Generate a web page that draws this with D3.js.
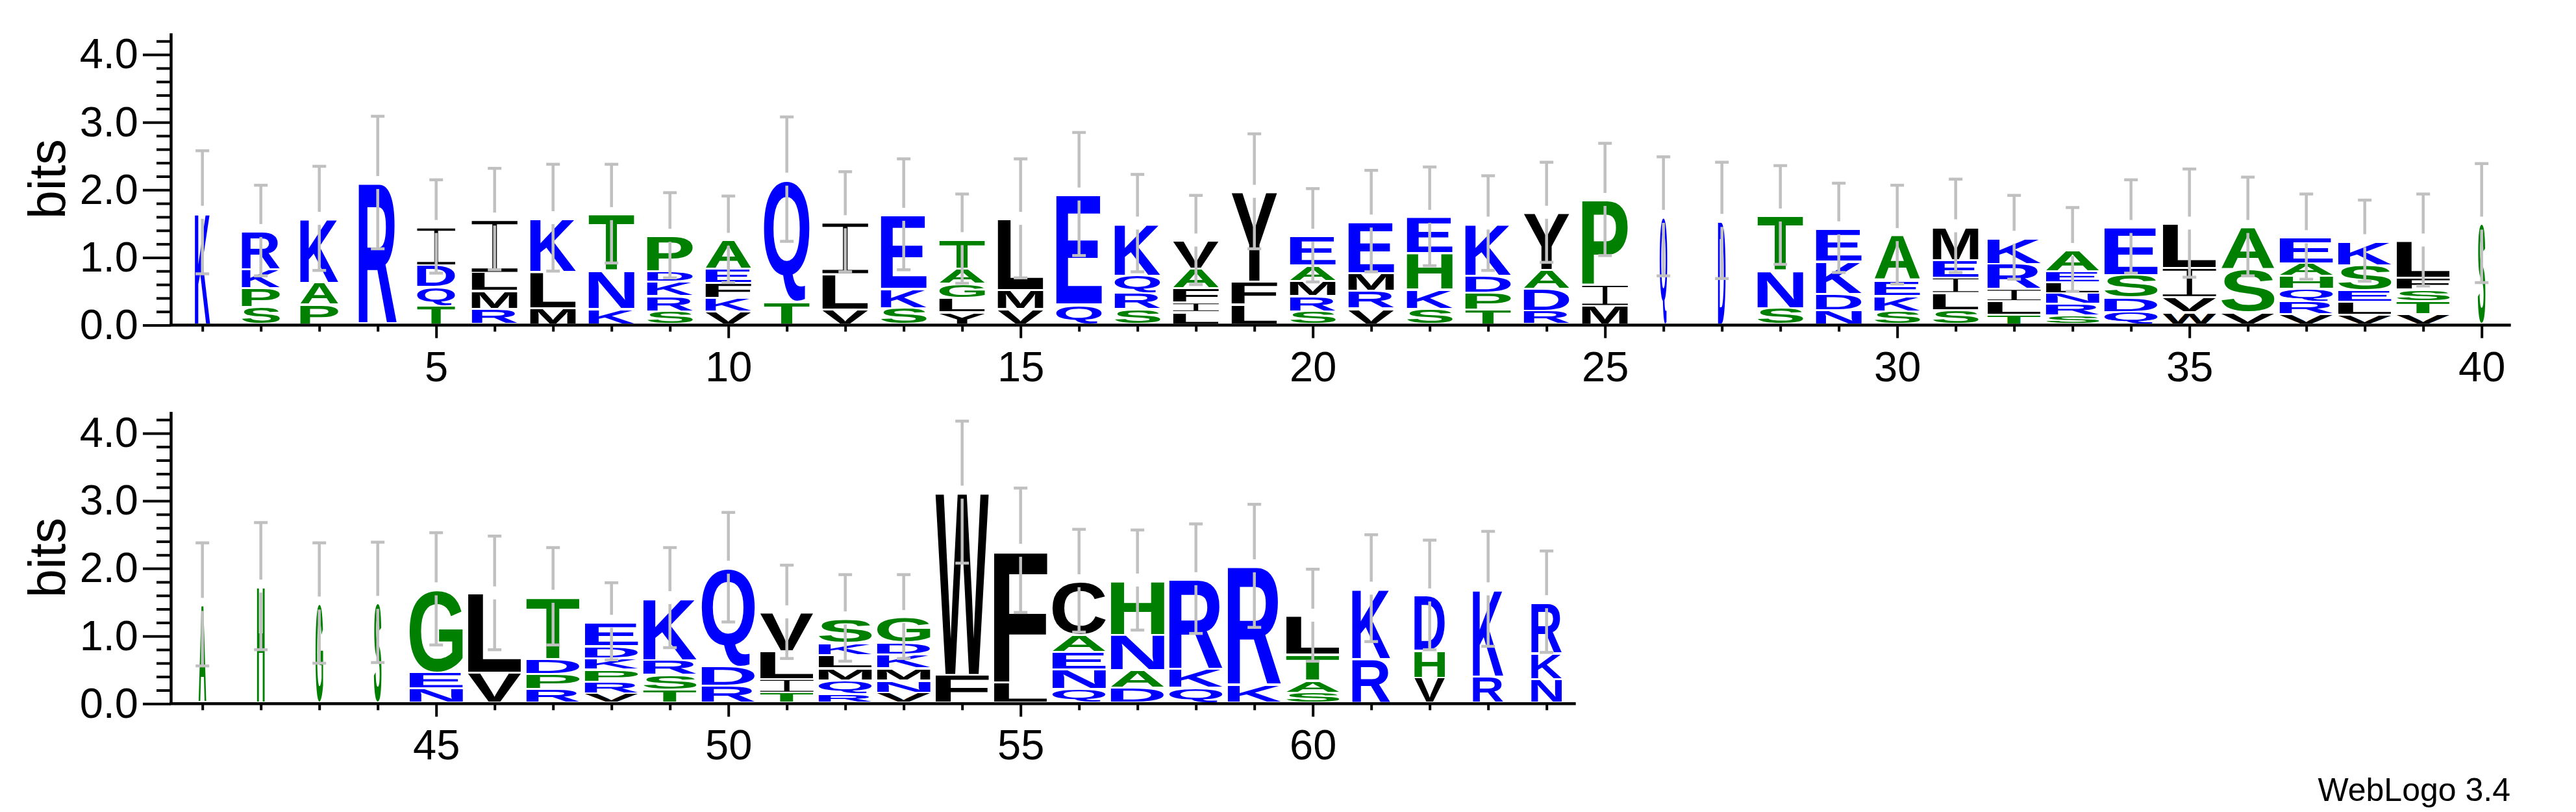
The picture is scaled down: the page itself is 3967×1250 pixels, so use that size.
<!DOCTYPE html>
<html>
<head>
<meta charset="utf-8">
<script src="https://cdn.jsdelivr.net/npm/d3@7"></script>
<style>
body { margin: 0; background: #fff; }
</style>
</head>
<body>
<div id="chart"></div>
<script>
// sequence positions, one stack each
var positions = d3.range(1, 65);

// letters of each stack, listed bottom to top
var stackLetters = ["K","SPKR","PAK","R","TQDI","RMLI","MLK","KNT","SRKDP","VKFEA",
    "TQ","VLI","SKE","YLGAT","VML","QE","SRQK","LIFAV","LFY","SRMAE",
    "VRME","SKHE","TPDK","RDAY","MIP","Q","D","SNT","NDKE","SKEA",
    "SLIEM","TLIRK","SRNLEA","QDSE","WVIL","VSA","VRQHAE","VLESK","VTSFL","S",
    "A","H","G","S","NEG","VL","RPDT","VRPKDE","TSRK","RDQ",
    "TILV","RQMLKS","VNMKDG","FW","LF","QNEAC","DANH","QKR","KR","SATL",
    "RK","VHD","RK","NKR"];

// height of each letter in bits, same order as stackLetters
var stackBits = [
    [1.64],[0.25,0.28,0.28,0.56],[0.29,0.32,0.94],[2.08],[0.27,0.28,0.32,0.56],
    [0.23,0.26,0.27,0.78],[0.24,0.53,0.79],[0.23,0.56,0.83],[0.19,0.23,0.21,0.15,0.52],[0.19,0.20,0.22,0.21,0.42],
    [0.33,1.80],[0.22,0.52,0.76],[0.24,0.28,1.09],[0.18,0.21,0.21,0.22,0.43],[0.23,0.27,1.05],
    [0.29,1.62],[0.22,0.24,0.26,0.76],[0.18,0.14,0.21,0.29,0.41],[0.29,0.34,1.32],[0.19,0.23,0.22,0.23,0.43],
    [0.23,0.26,0.26,0.76],[0.23,0.28,0.54,0.53],[0.22,0.25,0.25,0.76],[0.20,0.32,0.28,0.84],[0.27,0.31,1.25],
    [1.58],[1.52],[0.24,0.55,0.81],[0.21,0.24,0.48,0.48],[0.19,0.23,0.23,0.66],
    [0.21,0.25,0.23,0.26,0.49],[0.14,0.20,0.18,0.37,0.38],[0.13,0.17,0.16,0.16,0.16,0.31],[0.18,0.21,0.34,0.70],[0.18,0.22,0.43,0.65],
    [0.18,0.63,0.62],[0.15,0.19,0.18,0.19,0.19,0.38],[0.14,0.19,0.17,0.37,0.35],[0.15,0.19,0.17,0.18,0.54],[1.48],
    [1.44],[1.71],[1.46],[1.47],[0.21,0.24,1.22],
    [0.44,1.17],[0.20,0.23,0.22,0.91],[0.14,0.17,0.18,0.17,0.18,0.35],[0.19,0.22,0.22,0.91],[0.25,0.29,1.45],
    [0.15,0.20,0.41,0.57],[0.13,0.20,0.18,0.19,0.18,0.36],[0.15,0.18,0.18,0.20,0.18,0.37],[0.41,2.69],[0.30,1.94],
    [0.20,0.29,0.26,0.25,0.79],[0.22,0.26,0.52,0.80],[0.22,0.27,1.33],[0.26,1.75],[0.15,0.18,0.38,0.57],
    [0.65,1.03],[0.37,0.40,0.81],[0.39,1.28],[0.35,0.38,0.75]
];

// +/- error on the stack height, bits
var errorBits = [0.91,0.67,0.77,0.98,0.69,0.75,0.79,0.73,0.63,0.64,
    0.92,0.74,0.82,0.66,0.88,0.91,0.72,0.66,0.85,0.69,
    0.75,0.73,0.70,0.74,0.83,0.88,0.86,0.73,0.66,0.73,
    0.69,0.62,0.62,0.69,0.80,0.73,0.63,0.60,0.68,0.88,
    0.91,0.94,0.89,0.89,0.83,0.84,0.72,0.57,0.74,0.81,
    0.69,0.64,0.62,1.05,0.92,0.76,0.74,0.81,0.91,0.68,
    0.79,0.81,0.85,0.75];

// sequences (of 7) with a residue at the position -> stack width
var seqCount = [2,5,5,5,5,6,6,6,6,6, 6,6,6,6,6,6,6,6,6,6, 6,6,6,6,6,1,1,6,6,6,
    6,7,7,7,7,7,7,7,7,1, 1,1,1,1,7,7,7,7,7,7, 7,7,7,7,7,7,7,7,7,7, 5,4,4,4];
var nSeqs = 7;

var yTicks = [0, 1, 2, 3, 4];
var maxBits = 4.32;
var lineStarts = [1, 41];
var perLine = 40;

var hydrophilic = "RKDENQ";
var neutral = "SGHTAP";

function letterColor(c) {
    if (hydrophilic.indexOf(c) >= 0) return "#0000ff";
    if (neutral.indexOf(c) >= 0) return "#008000";
    return "#000000";
}

function init() {
    var w = 3967;
    var h = 1250;
    var axisX = 263;
    var firstX = 266.7;
    var colStep = 90;
    var stackW = 82;
    var bitPx = 104.1;
    var zeroY = [500.5, 1083.3];
    var lift = 3;   // letters sit on top of the axis line
    var font = "'Liberation Sans', Arial, Helvetica, sans-serif";

    var svg = d3.select("#chart")
                .append("svg")
                .attr("width", w)
                .attr("height", h)
                .style("display", "block");

    svg.append("rect").attr("width", w).attr("height", h).attr("fill", "white");

    // ink boxes of the glyphs, so each letter can be stretched to its cell
    var ctx = document.createElement("canvas").getContext("2d");
    ctx.font = "bold 200px " + font;
    var boxes = {};
    function glyphBox(c) {
        if (!boxes[c]) {
            var m = ctx.measureText(c);
            boxes[c] = {l: m.actualBoundingBoxLeft, r: m.actualBoundingBoxRight,
                        a: m.actualBoundingBoxAscent, d: m.actualBoundingBoxDescent};
        }
        return boxes[c];
    }

    lineStarts.forEach(function(start, li) {
        var cols = positions.filter(function(p) { return p >= start && p < start + perLine; });
        var last = cols[cols.length - 1];

        var xScale = d3.scaleLinear()
                        .domain([start - 0.5, last + 0.5])
                        .range([firstX, firstX + colStep * (last - start + 1)]);
        var yScale = d3.scaleLinear()
                        .domain([0, maxBits])
                        .range([zeroY[li], zeroY[li] - maxBits * bitPx]);

        var g = svg.append("g");

        //letter stacks
        cols.forEach(function(p) {
            var i = p - 1;
            var cx = xScale(p);
            var sw = seqCount[i] / nSeqs * stackW;
            var cum = 0;
            stackBits[i].forEach(function(b, k) {
                var c = stackLetters[i][k];
                var yb = yScale(cum) - lift;
                var yt = yScale(cum + b) - lift;
                cum += b;
                var gh = Math.max(1, yb - yt - 3);
                var top = yb - gh;
                if (c === "I") {
                    // serif I: full width bars, thin stem (a stretched plain I is just a block)
                    var t = Math.max(1, gh * 0.065);
                    var s = Math.max(1.5, sw * 0.1);
                    var x0 = cx - sw / 2;
                    g.append("path")
                        .attr("fill", letterColor(c))
                        .attr("d", "M" + x0 + "," + top + "h" + sw + "v" + t + "h" + (-sw) + "Z" +
                            "M" + x0 + "," + (yb - t) + "h" + sw + "v" + t + "h" + (-sw) + "Z" +
                            "M" + (cx - s / 2) + "," + top + "h" + s + "v" + gh + "h" + (-s) + "Z");
                    return;
                }
                var bx = glyphBox(c);
                g.append("text")
                    .text(c)
                    .attr("font-family", font)
                    .attr("font-weight", "bold")
                    .attr("font-size", 200)
                    .attr("fill", letterColor(c))
                    .attr("transform", "translate(" + (cx - sw / 2) + "," + top + ") scale(" +
                        (sw / (bx.l + bx.r)) + "," + (gh / (bx.a + bx.d)) + ") translate(" + bx.l + "," + bx.a + ")");
            });

            //error bar, with a break at the top of the stack
            var e = errorBits[i];
            var yTop = yScale(cum + e) - lift;
            var yMid = yScale(cum) - lift;
            var yBot = yScale(cum - e) - lift;
            var segs = [[cx, yTop, cx, yMid - 10], [cx, yMid + 10, cx, yBot],
                        [cx - 10.5, yTop, cx + 10.5, yTop], [cx - 10.5, yBot, cx + 10.5, yBot]];
            segs.forEach(function(s) {
                g.append("line")
                    .attr("x1", s[0]).attr("y1", s[1])
                    .attr("x2", s[2]).attr("y2", s[3])
                    .attr("stroke", "#c0c0c0")
                    .attr("stroke-width", 4.5);
            });
        });

        //y axis, major and minor ticks
        var yMinor = d3.range(0, 4.3, 0.2).filter(function(v) { return Math.abs(v - Math.round(v)) > 0.01; });
        var yAxisMinor = g.append("g")
            .attr("transform", "translate(" + axisX + ",0)")
            .call(d3.axisLeft(yScale).tickValues(yMinor).tickSize(22).tickSizeOuter(0).tickFormat(""));
        yAxisMinor.select(".domain").remove();

        var yAxis = g.append("g")
            .attr("transform", "translate(" + axisX + ",0)")
            .call(d3.axisLeft(yScale)
                .tickValues(yTicks)
                .tickSize(43)
                .tickSizeOuter(0)
                .tickPadding(7)
                .tickFormat(d3.format(".1f")));
        yAxis.attr("font-family", font).attr("font-size", 65);
        yAxis.selectAll("text").attr("fill", "black");

        //x axis, minor tick per column and labelled tick every 5
        var majors = cols.filter(function(p) { return p % 5 === 0; });
        var minors = cols.filter(function(p) { return p % 5 !== 0; });
        var xAxisMinor = g.append("g")
            .attr("transform", "translate(0," + zeroY[li] + ")")
            .call(d3.axisBottom(xScale).tickValues(minors).tickSize(10).tickSizeOuter(0).tickFormat(""));
        xAxisMinor.select(".domain").remove();

        var xAxis = g.append("g")
            .attr("transform", "translate(0," + zeroY[li] + ")")
            .call(d3.axisBottom(xScale)
                .tickValues(majors)
                .tickSize(20)
                .tickSizeOuter(0)
                .tickPadding(20)
                .tickFormat(d3.format("d")));
        xAxis.select(".domain").remove();
        xAxis.attr("font-family", font).attr("font-size", 65);
        xAxis.selectAll("text").attr("fill", "black");

        g.append("line")
            .attr("x1", axisX - 2).attr("x2", xScale.range()[1])
            .attr("y1", zeroY[li]).attr("y2", zeroY[li])
            .attr("stroke", "black")
            .attr("stroke-width", 4.5);

        g.selectAll(".tick line").attr("stroke", "black").attr("stroke-width", 4);
        g.selectAll(".domain").attr("stroke", "black").attr("stroke-width", 4.5);

        g.append("text")
            .text("bits")
            .attr("font-family", font)
            .attr("font-size", 79)
            .attr("text-anchor", "middle")
            .attr("transform", "translate(100," + (zeroY[li] - maxBits * bitPx / 2) + ") rotate(-90)");
    });

    svg.append("text")
        .text("WebLogo 3.4")
        .attr("font-family", font)
        .attr("font-size", 50)
        .attr("text-anchor", "end")
        .attr("x", 3866)
        .attr("y", 1233);
}

window.onload = init;
</script>
</body>
</html>
